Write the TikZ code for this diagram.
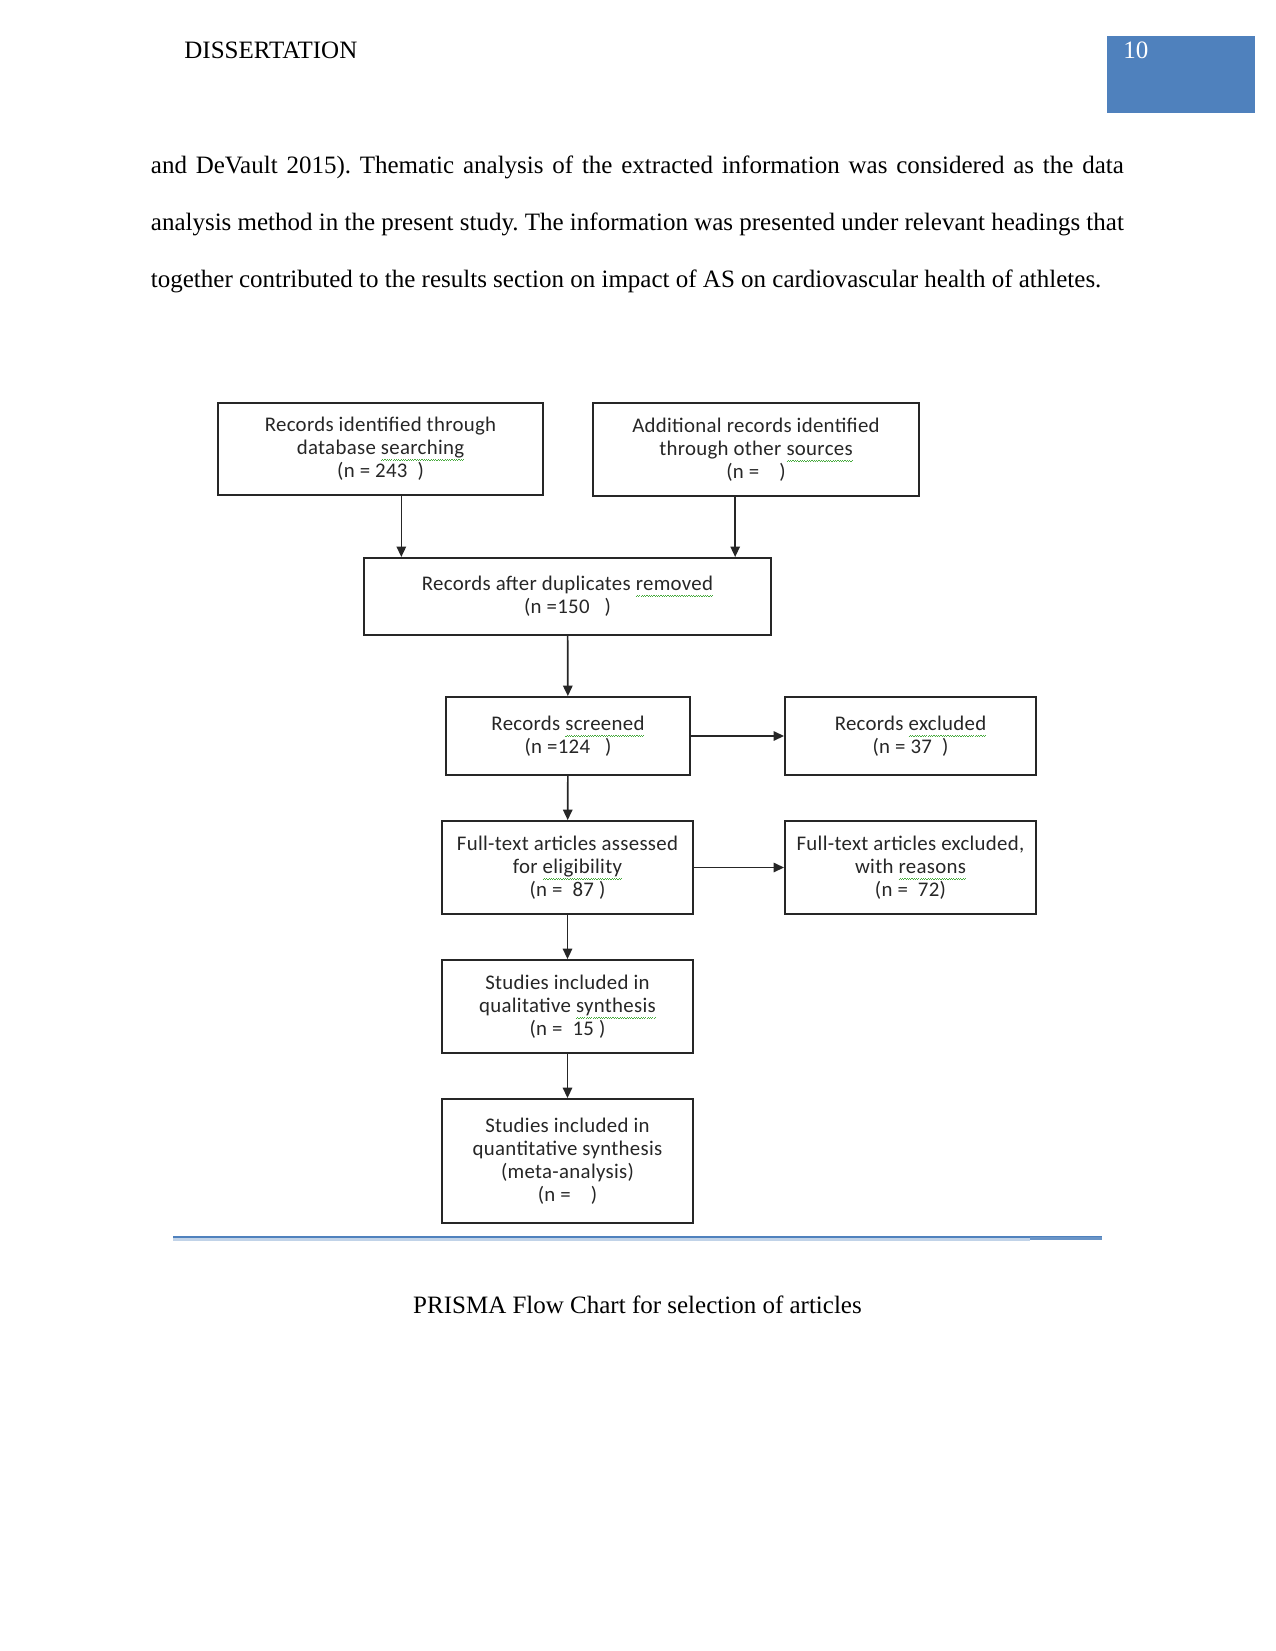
\documentclass[tikz,border=0pt]{standalone}
\usepackage{fontspec}
\setmainfont{Liberation Serif}
\newfontfamily\boxfont{Carlito}[LetterSpace=1.5]
\usetikzlibrary{arrows.meta}
\definecolor{wordblue}{RGB}{79,129,189}
\definecolor{squig}{RGB}{70,170,60}
% spell-check style wavy underline
\newsavebox\spellbox
\newcommand\spell[1]{\sbox\spellbox{#1}\leavevmode\rlap{\color{squig}\hbox to\wd\spellbox{\xleaders\hbox{\rule[-3.1pt]{0.55pt}{0.45pt}\rule[-2.65pt]{0.55pt}{0.45pt}}\hfil}}\usebox\spellbox}
\frenchspacing
\begin{document}
\begin{tikzpicture}[x=0.48pt,y=-0.48pt,
  box/.style={draw=black!85, line width=0.9pt, align=center, inner sep=0pt,
    text=black!85, font=\boxfont\fontsize{10}{11}\selectfont},
  arr/.style={-{Triangle[length=5pt,width=4.5pt]}, line width=0.8pt, draw=black!85},
  bodytext/.style={anchor=base west, inner sep=0pt, font=\fontsize{12}{14}\selectfont}]
\useasboundingbox (0,0) rectangle (1275,1651);
% page header
\node[bodytext] (runhead) at (184,58.5) {DISSERTATION};
\fill[wordblue] (1107,36) rectangle (1255,113);
\node[bodytext, text=white] (pagenum) at (1123,58.5) {10};
% paragraph
\node[bodytext] (line1) at (150.5,173.5) {\makebox[467pt][s]{and DeVault 2015). Thematic analysis of the extracted information was considered as the data}};
\node[bodytext] (line2) at (150.5,230.5) {\makebox[467pt][s]{analysis method in the present study. The information was presented under relevant headings that}};
\node[bodytext] (line3) at (150.5,287.5) {together contributed to the results section on impact of AS on cardiovascular health of athletes.};
% flow chart
\node[box, minimum width=156pt, minimum height=44.2pt] (dbrec) at (380.5,449) {Records identified through\\database \spell{searching}\\(n = 243\ \ )};
\node[box, minimum width=156.5pt, minimum height=44.6pt] (otherrec) at (756,449.5) {Additional records identified\\through other \spell{sources}\\(n = \ \ \ )};
\node[box, minimum width=195.4pt, minimum height=37pt] (dedup) at (567.5,596.5) {Records after duplicates \spell{removed}\\(n =150\ \ \ )};
\node[box, minimum width=117.1pt, minimum height=37.4pt] (screened) at (568,736) {Records \spell{screened}\\(n =124\ \ \ )};
\node[box, minimum width=120.5pt, minimum height=37.4pt] (excluded) at (910.5,736) {Records \spell{excluded}\\(n = 37\ \ )};
\node[box, minimum width=120.5pt, minimum height=44.6pt] (fulltext) at (567.5,867.5) {Full-text articles assessed\\for \spell{eligibility}\\(n = \ 87 )};
\node[box, minimum width=120.5pt, minimum height=44.6pt] (ftexcl) at (910.5,867.5) {Full-text articles excluded,\\with \spell{reasons}\\(n = \ 72)};
\node[box, minimum width=120.5pt, minimum height=44.6pt] (qual) at (567.5,1006.5) {Studies included in\\qualitative \spell{synthesis}\\(n = \ 15 )};
\node[box, minimum width=120.5pt, minimum height=59.5pt] (quant) at (567.5,1161) {Studies included in\\quantitative synthesis\\(meta-analysis)\\(n = \ \ \ )};
\draw[arr] ([xshift=10pt]dbrec.south) -- ([xshift=10pt]dbrec.south |- dedup.north);
\draw[arr] ([xshift=-10pt]otherrec.south) -- ([xshift=-10pt]otherrec.south |- dedup.north);
\draw[arr] (dedup) -- (screened);
\draw[arr] (screened) -- (excluded);
\draw[arr] (screened) -- (fulltext);
\draw[arr] (fulltext) -- (ftexcl);
\draw[arr] (fulltext) -- (qual);
\draw[arr] (qual) -- (quant);
% rule and caption
\draw[wordblue!35, line width=1.2pt] (173,1239.5) -- (1030,1239.5);
\draw[wordblue, line width=0.7pt] (173,1237) -- (1102,1237);
\draw[wordblue!85, line width=1.4pt] (1030,1238.5) -- (1102,1238.5);
\node[bodytext, anchor=base] (caption) at (637.5,1313.5) {PRISMA Flow Chart for selection of articles};
\end{tikzpicture}
\end{document}
